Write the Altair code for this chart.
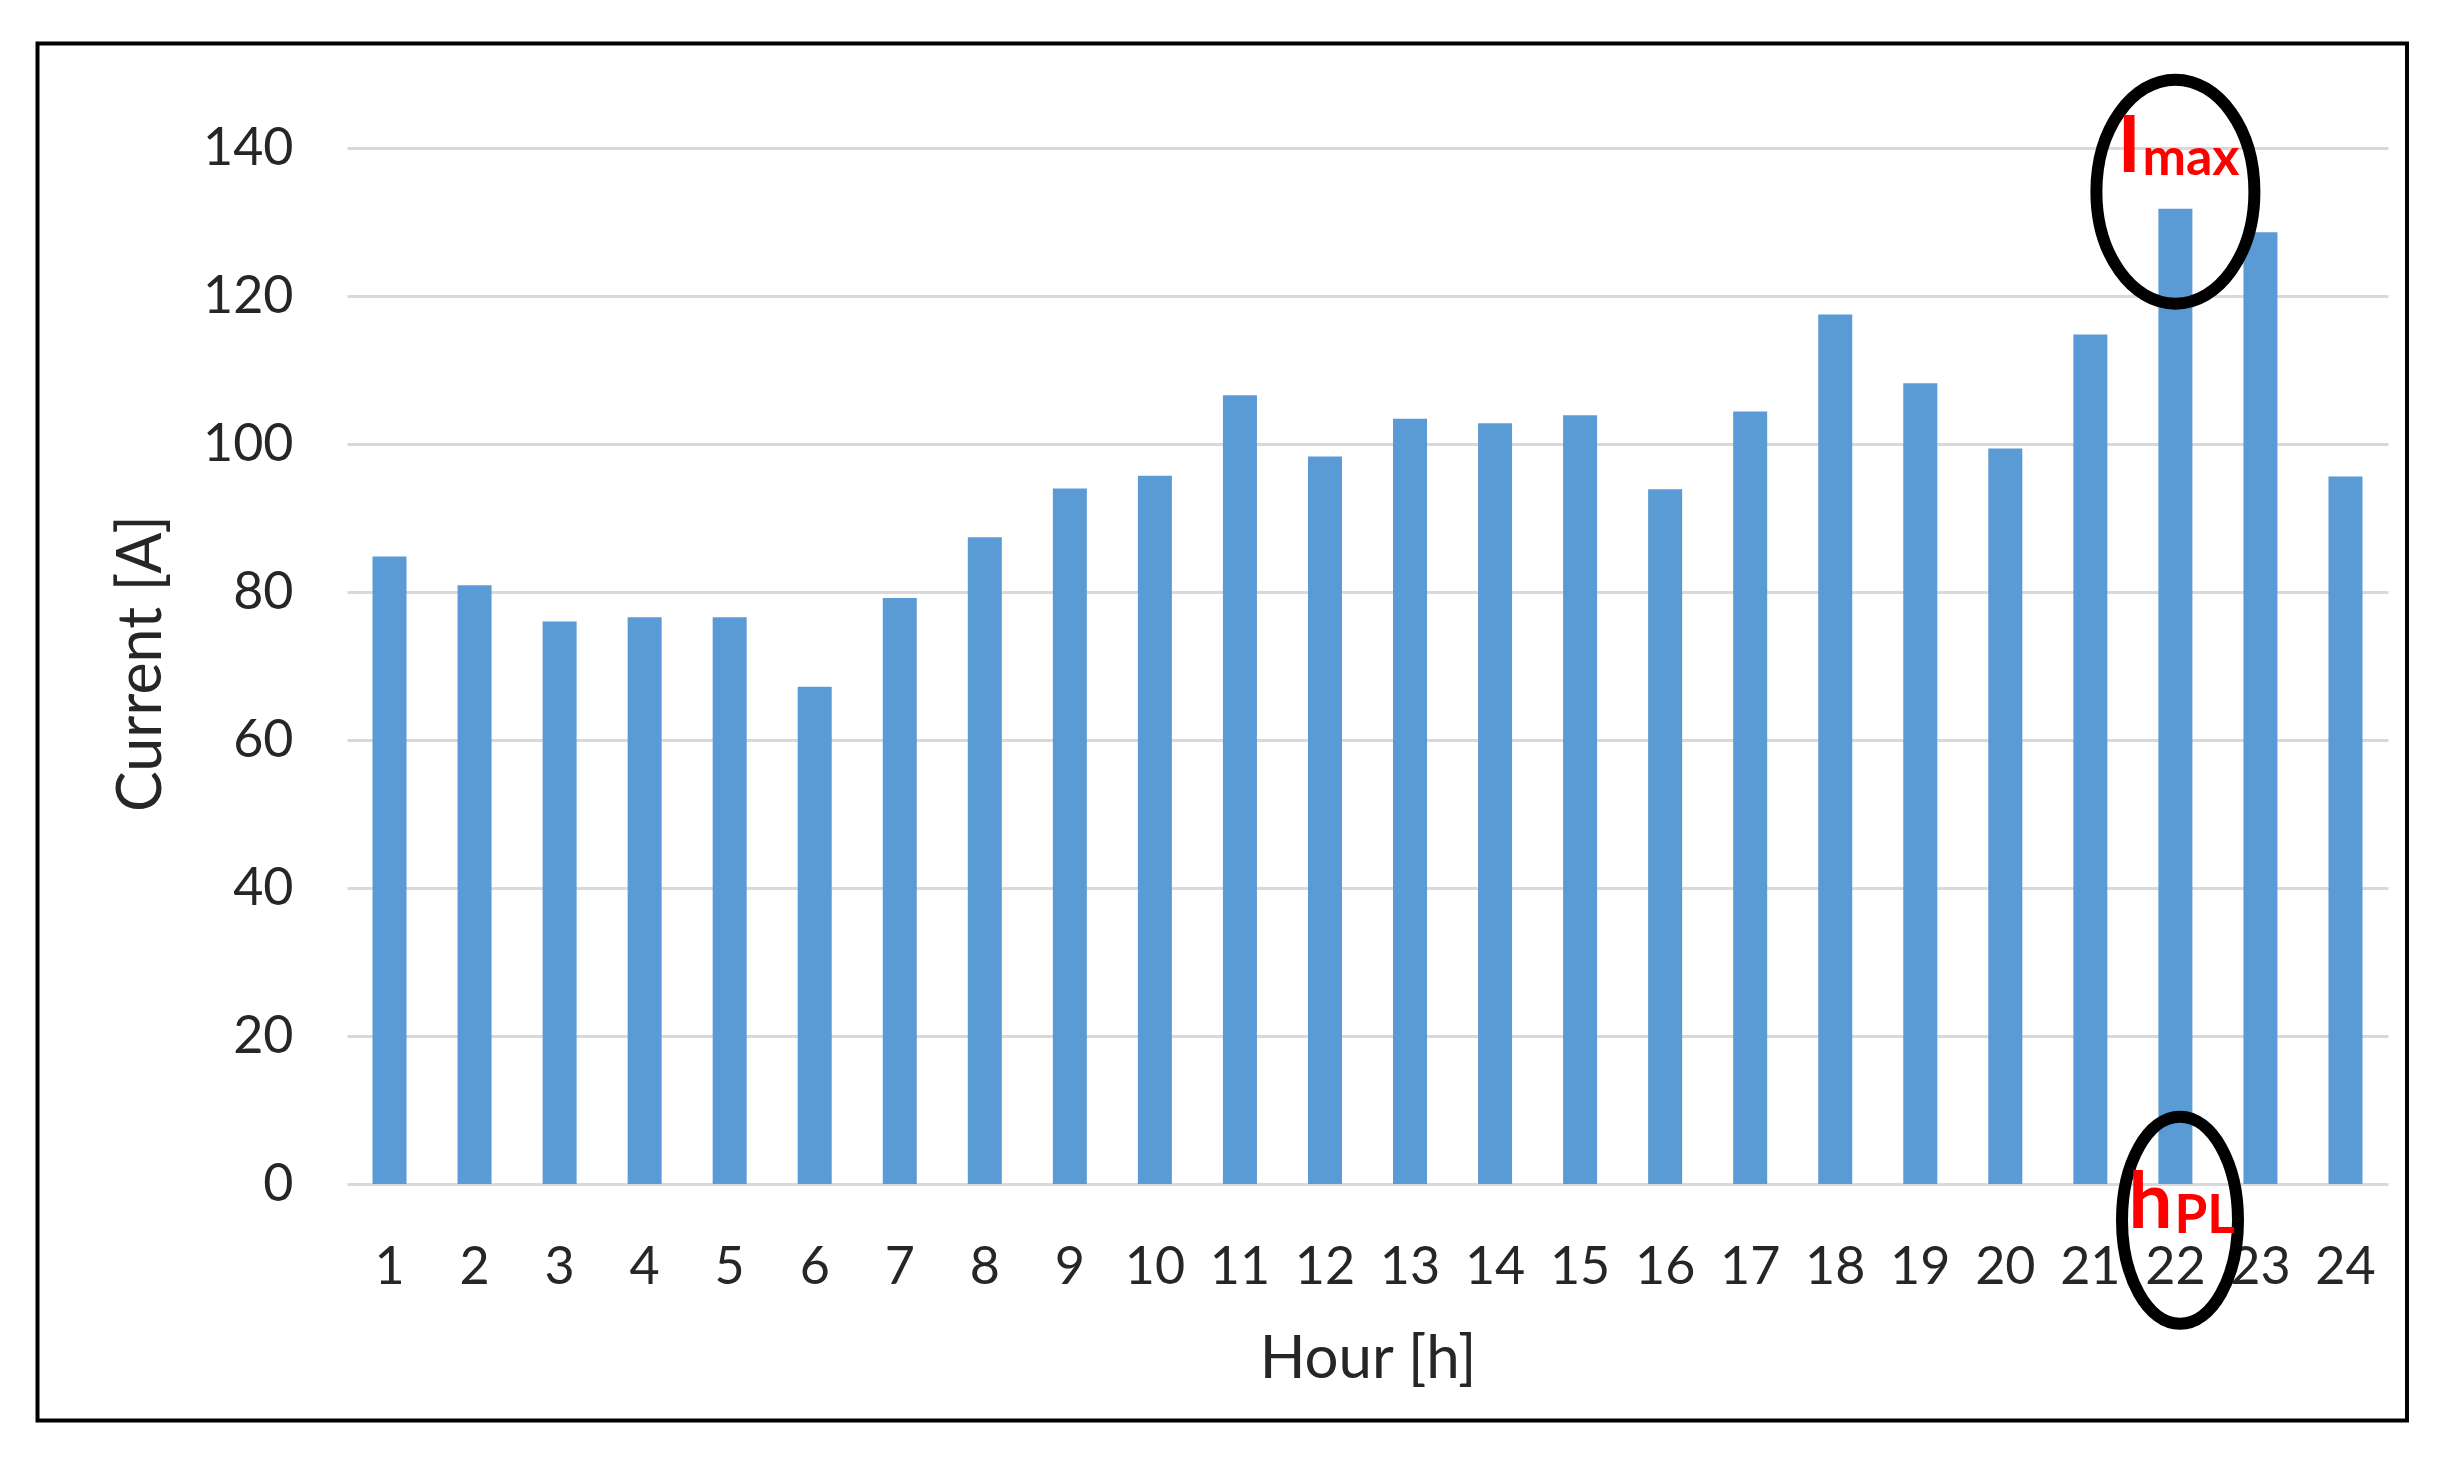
import altair as alt
import pandas as pd

# ---- data ----
hours = list(range(1, 25))
current = [84.8, 80.9, 76.0, 76.6, 76.6, 67.2, 79.2, 87.4, 94.0, 95.7,
           106.6, 98.3, 103.4, 102.8, 103.9, 93.9, 104.4, 117.5, 108.2, 99.4,
           114.8, 131.8, 128.6, 95.6]
y_ticks = [0, 20, 40, 60, 80, 100, 120, 140]

peak_hour = 22
imax_ellipse_y = [134.1]
hpl_ellipse_y = [-4.9]
imax_text_y = [136.8]
imax_sub_y = [136.3]
hpl_text_y = [-5.9]
hpl_sub_y = [-6.6]

FONT = "Lato"
TXT = "#262626"

bars_df = pd.DataFrame({"hour": hours, "current": current})

x_scale = alt.Scale(paddingInner=0.6, paddingOuter=0.3)
y_scale = alt.Scale(domain=[0, 140], nice=False, zero=True)

bars = alt.Chart(bars_df).mark_bar(color="#5B9BD5").encode(
    x=alt.X("hour:O", scale=x_scale,
            axis=alt.Axis(title="Hour [h]", labelAngle=0, domain=False, ticks=False,
                          tickSize=0, labelPadding=58, labelFontSize=52, labelFont=FONT,
                          labelColor=TXT, titleFontSize=60, titleFont=FONT,
                          titleFontWeight="normal", titleColor=TXT,
                          titleX=1020.5, titleY=193, titleAlign="center",
                          titleBaseline="alphabetic", grid=False)),
    y=alt.Y("current:Q", scale=y_scale,
            axis=alt.Axis(title="Current [A]", values=y_ticks, domain=False, ticks=False,
                          tickSize=0, labelPadding=54, labelFontSize=52, labelFont=FONT,
                          labelColor=TXT, grid=True, gridColor="#D9D9D9", gridWidth=3,
                          titleFontSize=61, titleFont=FONT, titleFontWeight="normal",
                          titleColor=TXT, titleAngle=270, titleX=-187, titleY=515,
                          titleAlign="center", titleBaseline="alphabetic")),
)


def ellipse_path(a, cx=0.0):
    k = 0.5523
    pts = (f"M {cx + a:.4f},0 "
           f"C {cx + a:.4f},{k:.4f} {cx + k * a:.4f},1 {cx:.4f},1 "
           f"C {cx - k * a:.4f},1 {cx - a:.4f},{k:.4f} {cx - a:.4f},0 "
           f"C {cx - a:.4f},{-k:.4f} {cx - k * a:.4f},-1 {cx:.4f},-1 "
           f"C {cx + k * a:.4f},-1 {cx + a:.4f},{-k:.4f} {cx + a:.4f},0 Z")
    return pts


def ann(yvals):
    return pd.DataFrame({"hour": [peak_hour] * len(yvals), "current": yvals})


def xenc():
    return alt.X("hour:O", scale=x_scale)


def yenc():
    return alt.Y("current:Q", scale=y_scale)


ell1 = alt.Chart(ann(imax_ellipse_y)).mark_point(
    shape=ellipse_path(79 / 112), size=(2 * 112) ** 2, filled=False,
    stroke="black", strokeWidth=12, opacity=1
).encode(x=xenc(), y=yenc())

ell2 = alt.Chart(ann(hpl_ellipse_y)).mark_point(
    shape=ellipse_path(58 / 103.5, 4.6 / 103.5), size=(2 * 103.5) ** 2, filled=False,
    stroke="black", strokeWidth=12, opacity=1
).encode(x=xenc(), y=yenc())

t_I = alt.Chart(ann(imax_text_y)).mark_text(
    text="I", align="left", baseline="alphabetic", dx=-58, fontSize=79,
    fontWeight="bold", font=FONT, color="#FF0000"
).encode(x=xenc(), y=yenc())

t_max = alt.Chart(ann(imax_sub_y)).mark_text(
    text="max", align="left", baseline="alphabetic", dx=-33, fontSize=52,
    fontWeight="bold", font=FONT, color="#FF0000"
).encode(x=xenc(), y=yenc())

t_h = alt.Chart(ann(hpl_text_y)).mark_text(
    text="h", align="left", baseline="alphabetic", dx=-47, fontSize=78,
    fontWeight="bold", font=FONT, color="#FF0000"
).encode(x=xenc(), y=yenc())

t_pl = alt.Chart(ann(hpl_sub_y)).mark_text(
    text="PL", align="left", baseline="alphabetic", dx=-1, fontSize=53,
    fontWeight="bold", font=FONT, color="#FF0000"
).encode(x=xenc(), y=yenc())

frame = alt.Chart(pd.DataFrame({"k": [0]})).mark_rect(
    fill="white", fillOpacity=0, stroke="black", strokeWidth=4
).encode(
    x=alt.value(-309.5), x2=alt.value(2060),
    y=alt.value(-104.5), y2=alt.value(1272.5)
)

chart = alt.layer(bars, ell1, ell2, t_I, t_max, t_h, t_pl, frame).properties(
    width=2041, height=1036,
    autosize=alt.AutoSizeParams(type="none"),
    padding={"left": 339, "top": 140, "right": 40, "bottom": 250},
    background="white",
).configure_view(stroke=None)

chart.save("out.html", embed_options={"renderer": "svg", "actions": False})
